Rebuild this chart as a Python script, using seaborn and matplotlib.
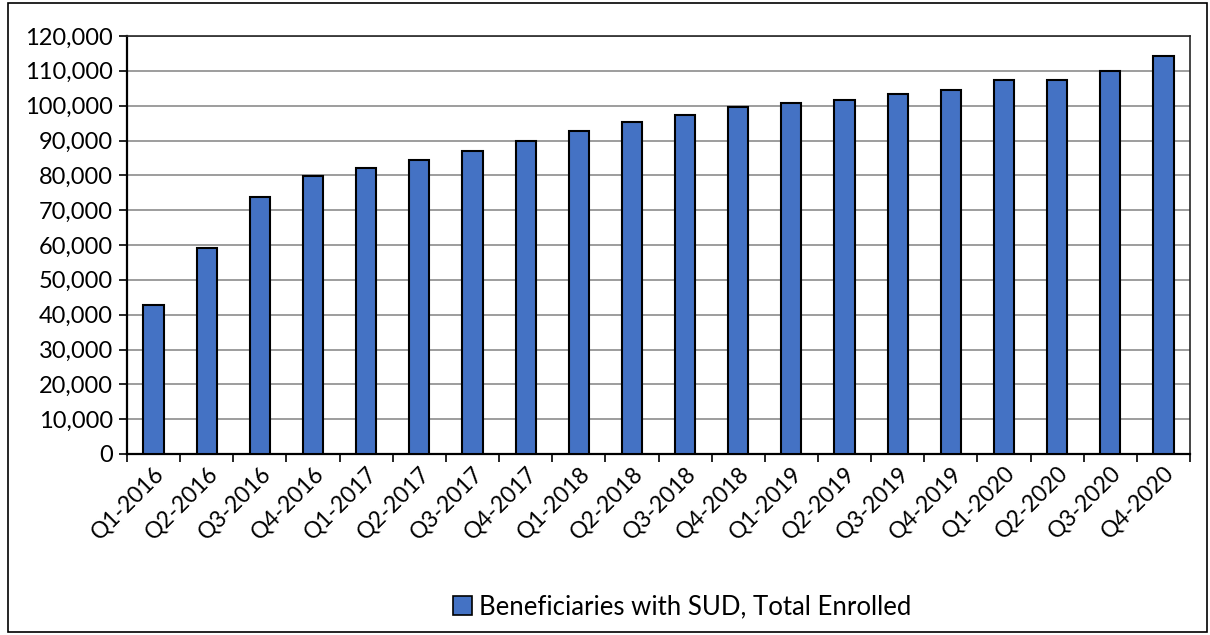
import matplotlib
matplotlib.use("Agg")
import matplotlib.pyplot as plt
import seaborn as sns
import pandas as pd
from matplotlib.patches import Rectangle, Patch
from matplotlib.ticker import FuncFormatter, MultipleLocator

quarters = ["Q1-2016", "Q2-2016", "Q3-2016", "Q4-2016",
            "Q1-2017", "Q2-2017", "Q3-2017", "Q4-2017",
            "Q1-2018", "Q2-2018", "Q3-2018", "Q4-2018",
            "Q1-2019", "Q2-2019", "Q3-2019", "Q4-2019",
            "Q1-2020", "Q2-2020", "Q3-2020", "Q4-2020"]
enrolled = [42700, 59100, 73800, 79800,
            82100, 84300, 87100, 89800,
            92700, 95400, 97300, 99600,
            100800, 101700, 103400, 104600,
            107300, 107300, 110000, 114400]
series_name = "Beneficiaries with SUD, Total Enrolled"

df = pd.DataFrame({"quarter": quarters, "value": enrolled})

sns.set_theme(style="white")
plt.rcParams["font.family"] = ["Lato", "DejaVu Sans"]

fig = plt.figure(figsize=(12.1, 6.35), dpi=100)
ax = fig.add_axes([127/1210, 1 - 454/635, (1190-127)/1210, (454-36)/635])

bar_color = "#4472C4"
sns.barplot(data=df, x="quarter", y="value", color=bar_color, width=0.38,
            edgecolor="black", linewidth=1.5, saturation=1, ax=ax, zorder=3)

ax.set_ylim(0, 120000)
ax.set_xlim(-0.5, len(quarters) - 0.5)
ax.yaxis.set_major_locator(MultipleLocator(10000))
ax.yaxis.set_major_formatter(FuncFormatter(lambda v, p: f"{int(v):,}"))
ax.grid(axis="y", color="#8c8c8c", linewidth=1.2, zorder=0)
ax.set_xlabel("")
ax.set_ylabel("")

for s in ["left", "bottom"]:
    ax.spines[s].set_visible(True)
    ax.spines[s].set_color("black")
    ax.spines[s].set_linewidth(1.6)
for s in ["top", "right"]:
    ax.spines[s].set_visible(True)
    ax.spines[s].set_color("#262626")
    ax.spines[s].set_linewidth(1.2)

ax.tick_params(axis="y", which="major", left=True, right=False, direction="out",
               length=6, width=1.2, color="black", labelsize=17, labelcolor="black",
               pad=4)
ax.set_xticks(range(len(quarters)))
ax.set_xticklabels(quarters, rotation=45, ha="right", rotation_mode="anchor",
                   fontsize=16.5, color="black")
ax.tick_params(axis="x", which="major", bottom=False, length=0, pad=6)
ax.set_xticks([i - 0.5 for i in range(len(quarters) + 1)], minor=True)
ax.tick_params(axis="x", which="minor", bottom=True, direction="out", length=6,
               width=1.2, color="black")

leg = ax.legend(handles=[Patch(facecolor=bar_color, edgecolor="black", linewidth=1.2,
                               label=series_name)],
                loc="center", bbox_to_anchor=((682-127)/1063, -(607-454)/418), frameon=False,
                fontsize=18.5, handlelength=0.75, handleheight=0.75, handletextpad=0.25)
for t in leg.get_texts():
    t.set_color("black")

fig.patches.append(Rectangle((8/1210, 3/635), (1207-8)/1210, (632-3)/635,
                             transform=fig.transFigure, fill=False,
                             edgecolor="black", linewidth=1.2))

fig.savefig("out.png", dpi=100, facecolor="white")
